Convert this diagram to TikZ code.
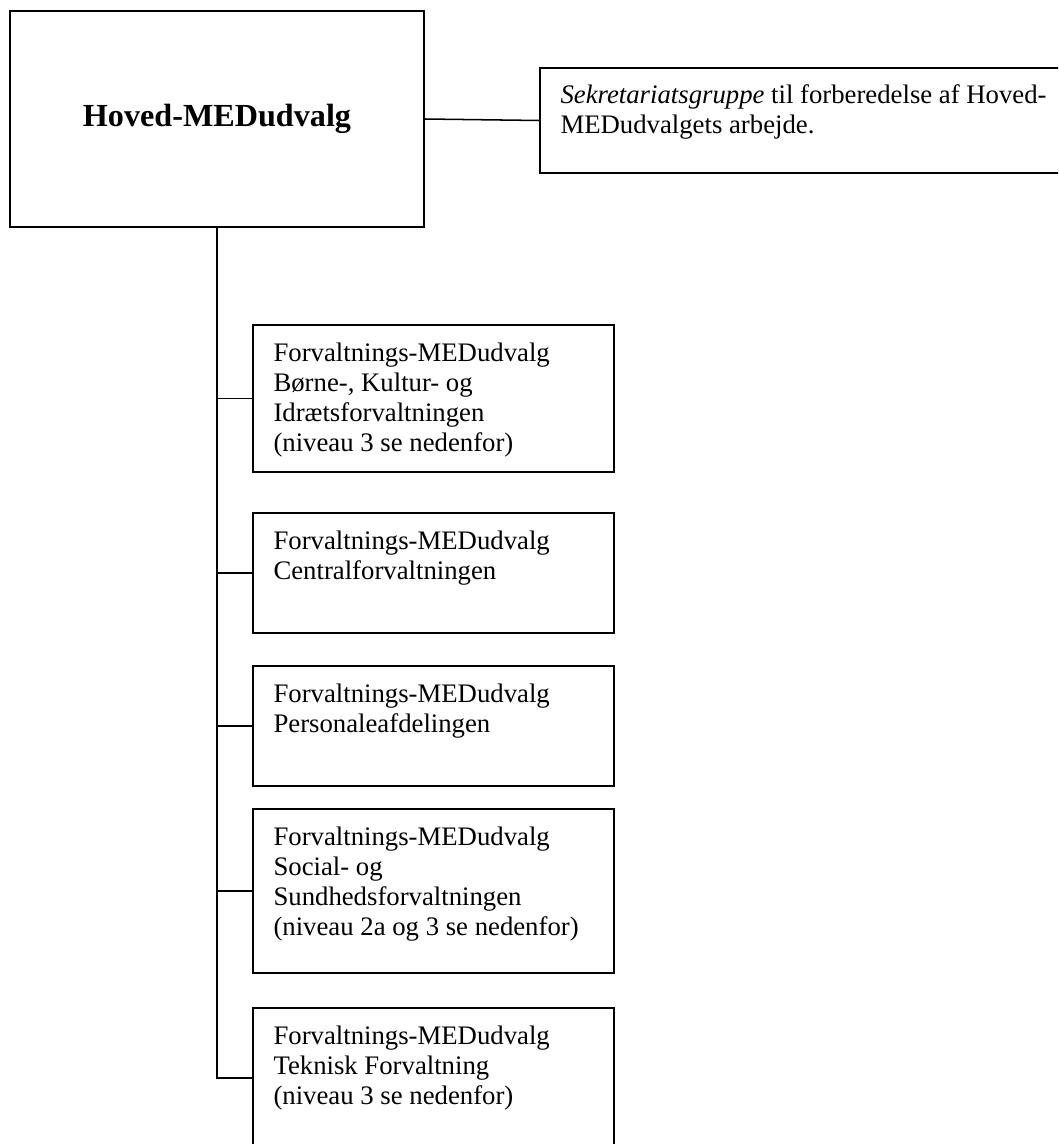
\documentclass[tikz,border=0pt]{standalone}
\usepackage{fontspec}
\setmainfont{Liberation Serif}
\usetikzlibrary{positioning}
\tikzset{
  udvalg/.style={draw, line width=0.8pt, inner sep=0pt, minimum width=166.1pt},
  boxtext/.style={anchor=north west, inner sep=0pt, align=left, font=\fontsize{12.3pt}{13.8pt}\selectfont},
  forbind/.style={line width=0.7pt}
}
\begin{document}
\begin{tikzpicture}[x=0.46pt, y=-0.46pt]
    \clip (0,0) rectangle (1058,1144);
    \node [draw, line width=1pt, minimum width=190.4pt, minimum height=99.4pt, font=\fontsize{14.8pt}{16pt}\selectfont\bfseries] (Hoved) at (217,119) {Hoved-MEDudvalg};
    \node [draw, line width=0.8pt, anchor=west, minimum width=257.6pt, minimum height=48.3pt] (Sekr) at (539,120.5) {};
    \node [boxtext] (SekrText) at ([xshift=9.7pt, yshift=-7.8pt]Sekr.north west) {\textit{Sekretariatsgruppe} til forberedelse af Hoved-\\MEDudvalgets arbejde.};
    % forvaltnings-udvalg
    \node [udvalg, anchor=west, minimum height=67.6pt] (Boerne)  at (252,398.5) {};
    \node [udvalg, anchor=west, minimum height=55.2pt] (Central) at (252,573) {};
    \node [udvalg, anchor=west, minimum height=55.2pt] (Personale) at (252,726) {};
    \node [udvalg, anchor=west, minimum height=75.4pt] (Social)  at (252,891) {};
    \node [udvalg, anchor=west, minimum height=64.4pt] (Teknisk) at (252,1078) {};
    \node [boxtext] at ([xshift=9.7pt, yshift=-8.3pt]Boerne.north west) {Forvaltnings-MEDudvalg\\Børne-, Kultur- og\\Idrætsforvaltningen\\(niveau 3 se nedenfor)};
    \node [boxtext] at ([xshift=9.7pt, yshift=-8.3pt]Central.north west) {Forvaltnings-MEDudvalg\\Centralforvaltningen};
    \node [boxtext] at ([xshift=9.7pt, yshift=-8.3pt]Personale.north west) {Forvaltnings-MEDudvalg\\Personaleafdelingen};
    \node [boxtext] at ([xshift=9.7pt, yshift=-8.3pt]Social.north west) {Forvaltnings-MEDudvalg\\Social- og\\Sundhedsforvaltningen\\(niveau 2a og 3 se nedenfor)};
    \node [boxtext] at ([xshift=9.7pt, yshift=-8.3pt]Teknisk.north west) {Forvaltnings-MEDudvalg\\Teknisk Forvaltning\\(niveau 3 se nedenfor)};
    \draw [forbind] (Hoved.east) -- (Sekr.west);% sekretariat
    \draw [line width=1.2pt] (Hoved.south) |- (Teknisk.west);% hovedlinje
    \foreach \u in {Boerne,Central,Personale,Social}
      \draw [forbind] (Hoved.south |- \u.west) -- (\u.west);
\end{tikzpicture}
\end{document}
